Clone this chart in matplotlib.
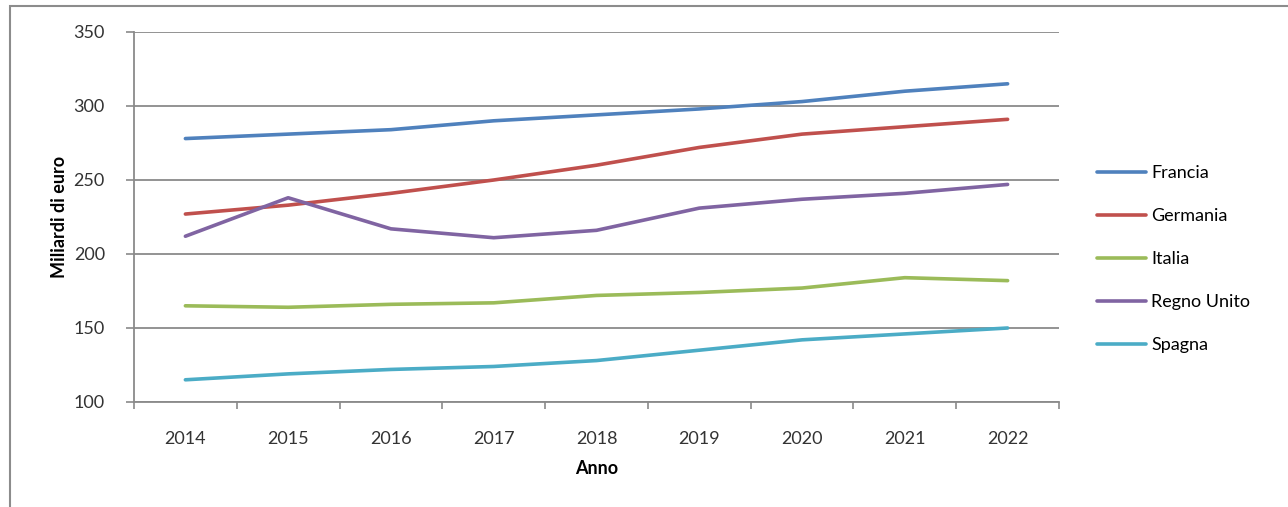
import numpy as np
import matplotlib.pyplot as plt
from matplotlib.patches import Rectangle

plt.rcParams['font.family'] = ['Lato', 'DejaVu Sans']

# dati (miliardi di euro)
anni = ["2014", "2015", "2016", "2017", "2018", "2019", "2020", "2021", "2022"]
francia = [278, 281, 284, 290, 294, 298, 303, 310, 315]
germania = [227, 233, 241, 250, 260, 272, 281, 286, 291]
italia = [165, 164, 166, 167, 172, 174, 177, 184, 182]
regno_unito = [212, 238, 217, 211, 216, 231, 237, 241, 247]
spagna = [115, 119, 122, 124, 128, 135, 142, 146, 150]

serie = [("Francia", francia, "#4F81BD"),
         ("Germania", germania, "#C0504D"),
         ("Italia", italia, "#9BBB59"),
         ("Regno Unito", regno_unito, "#8064A2"),
         ("Spagna", spagna, "#4BACC6")]

W, H = 1288, 507
fig = plt.figure(figsize=(W/100, H/100), dpi=100)

# cornice esterna del grafico (tagliata a destra e in basso)
fig.patches.append(Rectangle((10/W, -0.1), 1.2, 1.1 - 6/H, transform=fig.transFigure,
                             fill=False, edgecolor="#8c8c8c", linewidth=1.5))

ax = fig.add_axes([134/W, 1 - 402/H, (1059-134)/W, (402-32)/H])

x = np.arange(len(anni))
for nome, valori, colore in serie:
    ax.plot(x, valori, color=colore, linewidth=2.6, label=nome, solid_capstyle="round")

ax.set_xlim(-0.5, len(anni) - 0.5)
ax.set_ylim(100, 350)
ax.set_yticks(np.arange(100, 351, 50))
ax.yaxis.grid(True, color="#8a8a8a", linewidth=1.3)
ax.set_axisbelow(True)

ax.set_xticks(x)
ax.set_xticklabels(anni)
ax.set_xticks(np.arange(-0.5, len(anni)), minor=True)
ax.tick_params(axis="x", which="major", length=0, pad=21, labelsize=13, labelcolor="#333333")
ax.tick_params(axis="x", which="minor", length=5, color="#8a8a8a", width=1.2)
ax.tick_params(axis="y", length=6, color="#8a8a8a", width=1.2, pad=15, labelsize=13,
               labelcolor="#333333")

for s in ["top", "right"]:
    ax.spines[s].set_visible(False)
for s in ["left", "bottom"]:
    ax.spines[s].set_color("#8a8a8a")
    ax.spines[s].set_linewidth(1.3)

ax.set_xlabel("Anno", fontsize=13, fontweight="bold", labelpad=9)
ax.set_ylabel("Miliardi di euro", fontsize=13, fontweight="bold", labelpad=4)

ax.legend(loc="center left", bbox_to_anchor=(1088/W, 1 - 259/H), bbox_transform=fig.transFigure,
          frameon=False, fontsize=13, handlelength=2.7, handletextpad=0.3,
          labelspacing=1.5, borderpad=0)

fig.savefig("out.png", dpi=100)
